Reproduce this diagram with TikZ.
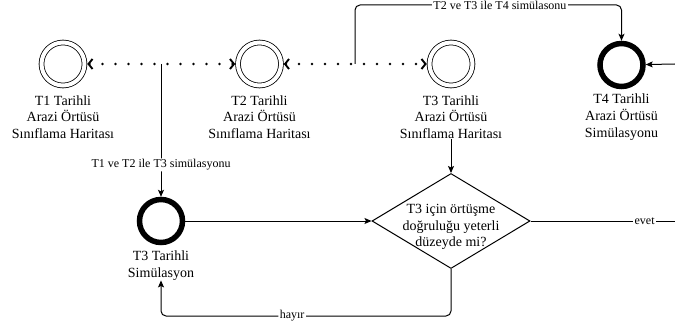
\documentclass[tikz,border=0pt]{standalone}
\usepackage{fontspec}
\setmainfont{Liberation Serif}
\usetikzlibrary{arrows.meta,shapes.geometric}
\begin{document}
\begin{tikzpicture}[x=1pt,y=-1pt,
  every node/.style={inner sep=0pt},
  mapstate/.style={circle,draw,line width=0.8pt,double,double distance=4pt,minimum size=43pt,outer sep=2.8pt},
  simstate/.style={circle,draw,line width=5.5pt,minimum size=43pt,outer sep=2.7pt},
  caption/.style={align=center,font=\fontsize{14}{16.7}\selectfont},
  flow/.style={line width=1pt,-{Stealth[length=7pt,width=6pt,inset=1.5pt]},rounded corners=5pt},
  plain/.style={line width=1pt},
  link/.style={line width=2.6pt,line cap=round,dash pattern=on 0pt off 13pt,
    {Straight Barb[length=4pt,width=10pt,line width=1.9pt]}-{Straight Barb[length=4pt,width=10pt,line width=1.9pt]}},
  edgelabel/.style={fill=white,inner xsep=1.5pt,inner ysep=1pt,font=\fontsize{12}{14}\selectfont},
  decision/.style={diamond,draw,line width=1pt,minimum width=158pt,minimum height=95pt,inner sep=0pt}
]
\useasboundingbox (0,0) rectangle (675,326);

% states
\node[mapstate] (m1) at (63,64) {};
\node[mapstate] (m2) at (259.5,64) {};
\node[mapstate] (m3) at (451,64) {};
\node[simstate] (s4) at (621.5,65) {};
\node[simstate] (s3) at (161,221) {};

% captions
\node[caption] (c1) at (63,117) {T1 Tarihli\\Arazi Örtüsü\\Sınıflama Haritası};
\node[caption] (c2) at (259.5,117) {T2 Tarihli\\Arazi Örtüsü\\Sınıflama Haritası};
\node[caption] (c3) at (451,117) {T3 Tarihli\\Arazi Örtüsü\\Sınıflama Haritası};
\node[caption] (c4) at (621.5,117) {T4 Tarihli\\Arazi Örtüsü\\Simülasyonu};
\node[caption] (c3s) at (161,265.5) {T3 Tarihli\\Simülasyon};

% decision
\node[decision] (q) at (451,221) {};
\node[caption] (qt) at (451,227) {T3 için örtüşme\\doğruluğu yeterli\\düzeyde mi?};

% branch points and free ends
\coordinate (j12) at (161,64);
\coordinate (j23) at (355,64);
\coordinate (eastin) at (675,64);
\coordinate (eastout) at (675,221);

% dotted links between the maps
\draw[link] (m1) -- (m2);
\draw[link] (m2) -- (m3);

% simulations
\draw[flow] (j12) -- node[edgelabel,pos=0.76] {T1 ve T2 ile T3 simülasyonu} (s3);
\draw[flow] (j23) -- (355,5) -| node[edgelabel,pos=0.272] {T2 ve T3 ile T4 simülasonu} (s4);
\draw[flow] (eastin) -- (s4);

% accuracy check
\draw[flow] (c3.south) -- (q.north);
\draw[flow] (s3) -- (q.west);
\draw[plain] (q.east) -- node[edgelabel,pos=0.79] {evet} (eastout);
\draw[flow] (q.south) -- (451,316) -| node[edgelabel,pos=0.274] {hayır} (c3s.south);
\end{tikzpicture}
\end{document}
